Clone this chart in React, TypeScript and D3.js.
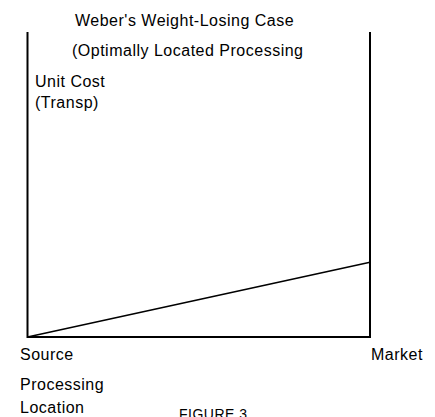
import { useEffect, useRef } from "react";
import * as d3 from "d3";

const W = 435;
const H = 417;
const FONT = '"Liberation Sans", Arial, sans-serif';

// processing location along the route, source -> market
const LOCATIONS = ["Source", "Market"];
// transport cost per unit at each end (share of axis height)
const TRANSP_COST = [0, 24.5];
const Y_MAX = 100;

const TITLE = "Weber's Weight-Losing Case";
const SUBTITLE = "(Optimally Located Processing";
const Y_LABEL = ["Unit Cost", "(Transp)"];
const X_LABEL = ["Processing", "Location"];
const CAPTION = "FIGURE 3";

export default function App() {
  const svgRef = useRef<SVGSVGElement | null>(null);

  useEffect(() => {
    const svg = d3.select(svgRef.current);
    svg.selectAll("*").remove();

    const x = d3.scalePoint<string>().domain(LOCATIONS).range([27.5, 370]);
    const y = d3.scaleLinear().domain([0, Y_MAX]).range([337, 32]);

    const text = (tx: number, ty: number, s: string, size = 16) =>
      svg
        .append("text")
        .attr("x", tx)
        .attr("y", ty)
        .attr("font-family", FONT)
        .attr("font-size", size)
        .attr("letter-spacing", 0.5)
        .attr("fill", "#000")
        .text(s);

    // frame: left axis, right axis, baseline
    const x0 = x(LOCATIONS[0])!;
    const x1 = x(LOCATIONS[1])!;
    const frame = d3.path();
    frame.moveTo(x0, y(Y_MAX));
    frame.lineTo(x0, y(0));
    frame.lineTo(x1, y(0));
    frame.lineTo(x1, y(Y_MAX));
    svg
      .append("path")
      .attr("d", frame.toString())
      .attr("fill", "none")
      .attr("stroke", "#000")
      .attr("stroke-width", 2);

    const line = d3
      .line<number>()
      .x((_, i) => x(LOCATIONS[i])!)
      .y((v) => y(v));

    svg
      .append("path")
      .datum(TRANSP_COST)
      .attr("d", line)
      .attr("fill", "none")
      .attr("stroke", "#000")
      .attr("stroke-width", 1.6);

    text(75, 26, TITLE);
    text(72, 56, SUBTITLE);
    text(35, 87, Y_LABEL[0]);
    text(35, 108, Y_LABEL[1]);

    text(20, 360, LOCATIONS[0]);
    text(371, 360, LOCATIONS[1]);
    text(20, 390, X_LABEL[0]);
    text(20, 413, X_LABEL[1]);
    text(179, 419, CAPTION, 14);
  }, []);

  return (
    <svg
      ref={svgRef}
      width={W}
      height={H}
      viewBox={`0 0 ${W} ${H}`}
      style={{ position: "absolute", left: 0, top: 0, display: "block", background: "#fff" }}
    />
  );
}
